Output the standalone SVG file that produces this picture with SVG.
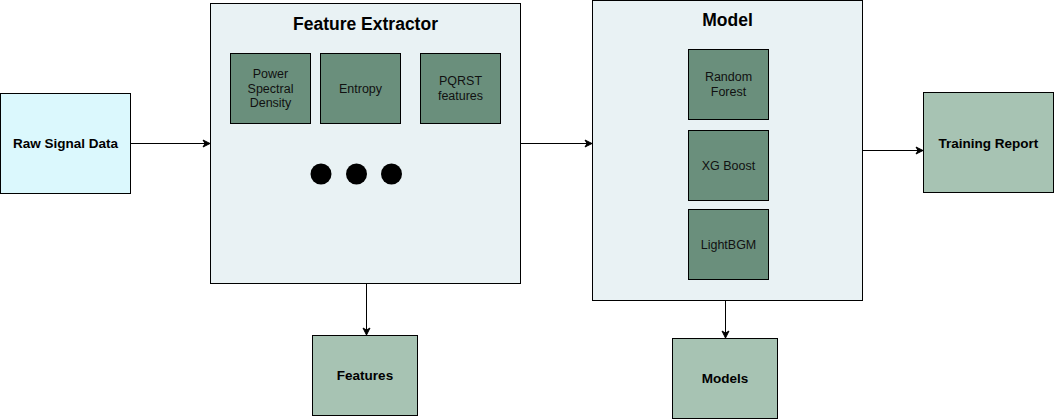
<svg xmlns="http://www.w3.org/2000/svg" width="1054" height="419" viewBox="0 0 1054 419">
<defs>
<marker id="arr" markerWidth="10" markerHeight="10" refX="8" refY="5" orient="auto" markerUnits="userSpaceOnUse">
<path d="M1,1.5 L8,5 L1,8.5 L3,5 Z" fill="#000" stroke="#000" stroke-width="1"/>
</marker>
<style>
.box{stroke:#000;stroke-width:1}
.cyan{fill:#dbf8fd}
.cont{fill:#e9f2f4}
.dark{fill:#6a8f7c}
.light{fill:#a7c3b3}
text{font-family:"Liberation Sans",Arial,sans-serif;text-anchor:middle;fill:#000}
.b{font-weight:bold;font-size:13.5px}
.n{font-size:12.5px;fill:#111}
.t{font-weight:bold;font-size:17.5px}
.c line{stroke:#000;stroke-width:1;marker-end:url(#arr)}
</style>
</defs>
<rect x="0" y="0" width="1054" height="419" fill="#fff"/>
<g id="raw">
<rect class="box cyan" x="0.5" y="93.5" width="130" height="100"/>
<text class="b" x="65.5" y="148">Raw Signal Data</text>
</g>
<g id="feature-extractor">
<rect class="box cont" x="210.5" y="3.5" width="310" height="280"/>
<text class="t" x="365.5" y="30">Feature Extractor</text>
</g>
<g id="psd">
<rect class="box dark" x="230.5" y="53.5" width="80" height="70"/>
<text class="n" x="270.5" y="78">Power</text>
<text class="n" x="270.5" y="92.5">Spectral</text>
<text class="n" x="270.5" y="107">Density</text>
</g>
<g id="entropy">
<rect class="box dark" x="320.5" y="53.5" width="80" height="70"/>
<text class="n" x="360.5" y="92.5">Entropy</text>
</g>
<g id="pqrst">
<rect class="box dark" x="420.5" y="53.5" width="80" height="70"/>
<text class="n" x="460.5" y="85">PQRST</text>
<text class="n" x="460.5" y="100">features</text>
</g>
<g id="dots">
<circle cx="321" cy="174" r="10.5" fill="#000"/>
<circle cx="356.5" cy="174" r="10.5" fill="#000"/>
<circle cx="391.5" cy="174" r="10.5" fill="#000"/>
</g>
<g id="features">
<rect class="box light" x="312.5" y="335.5" width="105" height="80"/>
<text class="b" x="365" y="380">Features</text>
</g>
<g id="model">
<rect class="box cont" x="592.5" y="0.5" width="270" height="300"/>
<text class="t" x="727.5" y="25.5">Model</text>
</g>
<g id="rf">
<rect class="box dark" x="688.5" y="49.5" width="80" height="70"/>
<text class="n" x="728.5" y="81">Random</text>
<text class="n" x="728.5" y="96">Forest</text>
</g>
<g id="xgb">
<rect class="box dark" x="688.5" y="130.5" width="80" height="70"/>
<text class="n" x="728.5" y="169.5">XG Boost</text>
</g>
<g id="lgbm">
<rect class="box dark" x="688.5" y="209.5" width="80" height="70"/>
<text class="n" x="728.5" y="248.5">LightBGM</text>
</g>
<g id="models">
<rect class="box light" x="672.5" y="338.5" width="105" height="80"/>
<text class="b" x="725" y="383">Models</text>
</g>
<g id="report">
<rect class="box light" x="923.5" y="92.5" width="130" height="100"/>
<text class="b" x="988.5" y="147.5">Training Report</text>
</g>
<g class="c" id="connectors">
<line x1="130.5" y1="143.5" x2="210" y2="143.5"/>
<line x1="520.5" y1="143.5" x2="592" y2="143.5"/>
<line x1="862.5" y1="150.5" x2="923" y2="150.5"/>
<line x1="366.5" y1="283.5" x2="366.5" y2="335"/>
<line x1="725.5" y1="300.5" x2="725.5" y2="338"/>
</g>
</svg>
